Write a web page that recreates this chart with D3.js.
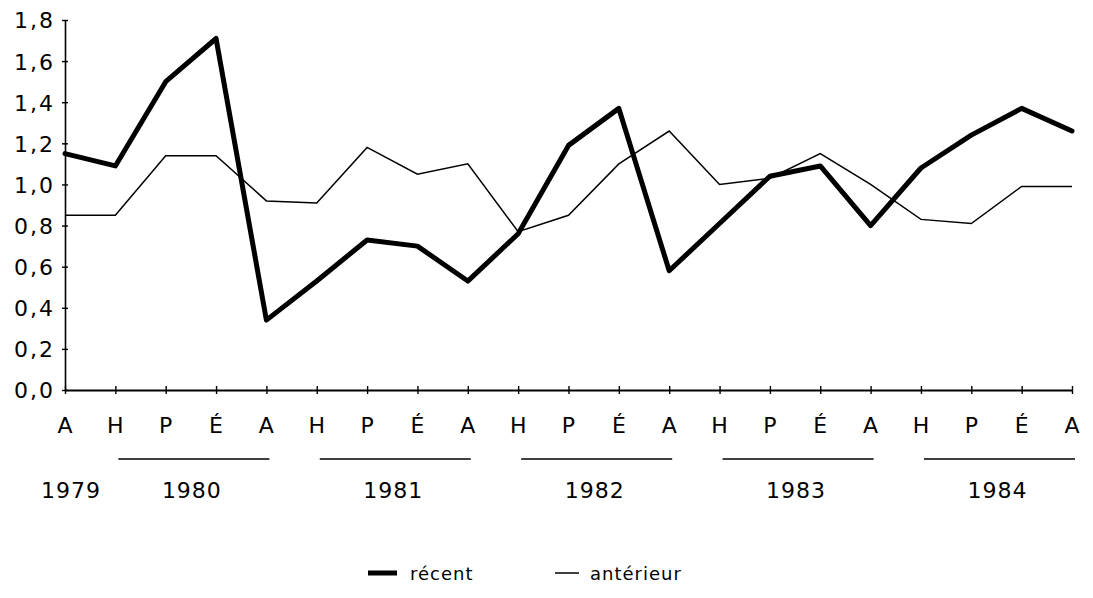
<!DOCTYPE html>
<html>
<head>
<meta charset="utf-8">
<script src="https://cdn.jsdelivr.net/npm/d3@7"></script>
<style>
  html, body { margin: 0; padding: 0; background: #fff; }
  svg { display: block; }
  text { font-family: "DejaVu Sans", sans-serif; fill: #000; }
</style>
</head>
<body>
<svg id="chart" width="1093" height="598"></svg>
<script>
// ---- data ----
const quarters = ["A","H","P","É","A","H","P","É","A","H","P","É","A","H","P","É","A","H","P","É","A"];
const years = ["1979","1980","1981","1982","1983","1984"];
const yearStart = [0, 1, 5, 9, 13, 17];
const yearEnd   = [0, 4, 8, 12, 16, 20];
const recent    = [1.15, 1.09, 1.50, 1.71, 0.34, 0.53, 0.73, 0.70, 0.53, 0.76, 1.19, 1.37, 0.58, 0.81, 1.04, 1.09, 0.80, 1.08, 1.24, 1.37, 1.26];
const anterieur = [0.85, 0.85, 1.14, 1.14, 0.92, 0.91, 1.18, 1.05, 1.10, 0.77, 0.85, 1.10, 1.26, 1.00, 1.03, 1.15, 1.00, 0.83, 0.81, 0.99, 0.99];
const yTicks = [0, 0.2, 0.4, 0.6, 0.8, 1.0, 1.2, 1.4, 1.6, 1.8];
const seriesNames = ["récent", "antérieur"];

// ---- layout ----
const svg = d3.select("#chart");
const x = d3.scalePoint().domain(d3.range(quarters.length)).range([65, 1072]);
const y = d3.scaleLinear().domain([0, 1.8]).range([390, 20]);
const fmt = v => d3.format(".1f")(v).replace(".", ",");

// y axis
const yAxis = svg.append("g").attr("transform", "translate(65,0)")
  .call(d3.axisLeft(y).tickValues(yTicks).tickFormat(fmt).tickSize(3).tickSizeOuter(0));
yAxis.select(".domain").attr("stroke", "#000").attr("stroke-width", 1.6);
yAxis.selectAll(".tick line").attr("x1", -3).attr("x2", 3).attr("stroke", "#000").attr("stroke-width", 1.4);
yAxis.selectAll(".tick text")
  .attr("x", -10).attr("dy", "0.36em")
  .style("font-size", "22px").style("letter-spacing", "2px")
  .style("font-family", "'DejaVu Sans', sans-serif").attr("fill", "#000");

// x axis
const xAxis = svg.append("g").attr("transform", "translate(0,390)")
  .call(d3.axisBottom(x).tickFormat(() => "").tickSize(4).tickSizeOuter(0));
xAxis.select(".domain").attr("stroke", "#000").attr("stroke-width", 1.8);
xAxis.selectAll(".tick line").attr("y1", -4).attr("y2", 4).attr("stroke", "#000").attr("stroke-width", 1.4);

// quarter labels
svg.append("g").selectAll("text").data(quarters).join("text")
  .attr("x", (d, i) => x(i)).attr("y", 433)
  .attr("text-anchor", "middle")
  .style("font-size", "22px")
  .text(d => d);

// year underlines & labels
svg.append("g").selectAll("line").data(years.slice(1)).join("line")
  .attr("x1", (d, i) => x(yearStart[i + 1]) + 3)
  .attr("x2", (d, i) => x(yearEnd[i + 1]) + 3)
  .attr("y1", 459).attr("y2", 459)
  .attr("stroke", "#000").attr("stroke-width", 1.5);

svg.append("g").selectAll("text").data(years).join("text")
  .attr("x", (d, i) => (x(yearStart[i]) + x(yearEnd[i])) / 2 + (i === 0 ? 6 : 1))
  .attr("y", 498)
  .attr("text-anchor", "middle")
  .style("font-size", "22px").style("letter-spacing", "1px")
  .text(d => d);

// lines
const line = d3.line().x((d, i) => x(i)).y(d => y(d));
svg.append("path").datum(anterieur)
  .attr("d", line).attr("fill", "none").attr("stroke", "#000").attr("stroke-width", 1.5)
  .attr("stroke-linejoin", "miter");
svg.append("path").datum(recent)
  .attr("d", line).attr("fill", "none").attr("stroke", "#000").attr("stroke-width", 5)
  .attr("stroke-linejoin", "round").attr("stroke-linecap", "round");

// legend
const legend = svg.append("g");
legend.append("line").attr("x1", 368).attr("x2", 397).attr("y1", 573).attr("y2", 573)
  .attr("stroke", "#000").attr("stroke-width", 5);
legend.append("text").attr("x", 410).attr("y", 580).style("font-size", "18px").style("letter-spacing", "1px")
  .text(seriesNames[0]);
legend.append("line").attr("x1", 555).attr("x2", 579).attr("y1", 573).attr("y2", 573)
  .attr("stroke", "#000").attr("stroke-width", 1.5);
legend.append("text").attr("x", 590).attr("y", 580).style("font-size", "18px").style("letter-spacing", "1px")
  .text(seriesNames[1]);
</script>
</body>
</html>
